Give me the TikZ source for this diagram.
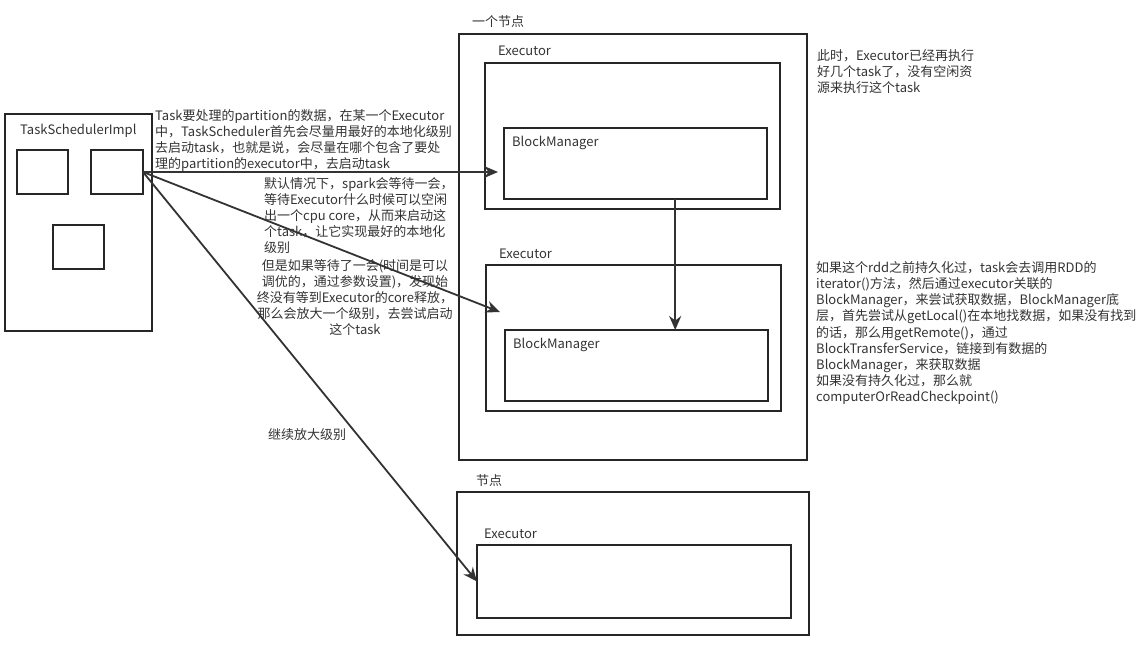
\documentclass[tikz,border=0pt]{standalone}
\usepackage{fontspec}
\setmainfont{Liberation Sans}
\newfontfamily\cjk{Noto Sans CJK SC}
\usetikzlibrary{arrows.meta,positioning}
\tikzset{
  box/.style={rectangle, draw=black!85, line width=1.5pt, anchor=north west, inner sep=0pt, outer sep=0pt},
  lbl/.style={font=\cjk\fontsize{13}{16.2}\selectfont, text=black!80, inner sep=0pt},
  conn/.style={-{Stealth[length=14pt,width=12pt]}, line width=1.8pt, draw=black!80}
}
\begin{document}
\begin{tikzpicture}[x=1pt,y=-1pt]
  \useasboundingbox (0,0) rectangle (1146,654);
  \node(sched) [box, minimum width=147, minimum height=217] at (5,114) {};
  \node(slotA) [box, minimum width=51, minimum height=44] at (17,150) {};
  \node(slotB) [box, minimum width=52, minimum height=44] at (91,150) {};
  \node(slotC) [box, minimum width=51, minimum height=44] at (53,225) {};
  \node(nodeA) [box, minimum width=348, minimum height=426] at (459,34) {};
  \node(execA) [box, minimum width=295, minimum height=146] at (485,63) {};
  \node(blockA) [box, minimum width=263, minimum height=71] at (504,128) {};
  \node(execB) [box, minimum width=295, minimum height=146] at (486,265) {};
  \node(blockB) [box, minimum width=263, minimum height=71] at (505,330) {};
  \node(nodeB) [box, minimum width=352, minimum height=143] at (457,492) {};
  \node(execC) [box, minimum width=314, minimum height=73] at (477,545) {};
  \node(schedname) [lbl, anchor=west] at (20,131) {TaskSchedulerImpl};
  \node(nodeAname) [lbl, anchor=west] at (472,22) {一个节点};
  \node(execAname) [lbl, anchor=west] at (498,51) {Executor};
  \node(blockAname) [lbl, anchor=west] at (512,143) {BlockManager};
  \node(execBname) [lbl, anchor=west] at (499,254) {Executor};
  \node(blockBname) [lbl, anchor=west] at (513,345) {BlockManager};
  \node(nodeBname) [lbl, anchor=west] at (476,481) {节点};
  \node(execCname) [lbl, anchor=west] at (484,534) {Executor};
  \node(localtext) [lbl, anchor=north west, align=left] at (155,109) {Task要处理的partition的数据，在某一个Executor\\中，TaskScheduler首先会尽量用最好的本地化级别\\去启动task，也就是说，会尽量在哪个包含了要处\\理的partition的executor中，去启动task};
  \node(waittext) [lbl, anchor=north west, align=left] at (264,177) {默认情况下，spark会等待一会，\\等待Executor什么时候可以空闲\\出一个cpu core，从而来启动这\\个task，让它实现最好的本地化\\级别};
  \node(widentext) [lbl, anchor=north, align=center] at (355,259) {但是如果等待了一会(时间是可以\\调优的，通过参数设置)，发现始\\终没有等到Executor的core释放，\\那么会放大一个级别，去尝试启动\\这个task};
  \node(furthertext) [lbl, anchor=west] at (268,435) {继续放大级别};
  \node(busytext) [lbl, anchor=north west, align=left] at (817,49) {此时，Executor已经再执行\\好几个task了，没有空闲资\\源来执行这个task};
  \node(fetchtext) [lbl, anchor=north west, align=left] at (816,261) {如果这个rdd之前持久化过，task会去调用RDD的\\iterator()方法，然后通过executor关联的\\BlockManager，来尝试获取数据，BlockManager底\\层，首先尝试从getLocal()在本地找数据，如果没有找到\\的话，那么用getRemote()，通过\\BlockTransferService，链接到有数据的\\BlockManager，来获取数据\\如果没有持久化过，那么就\\computerOrReadCheckpoint()};
  \coordinate(tipB) at (500,312);
  \draw[conn] (slotB.east) -- ([xshift=13]slotB.east -| execA.west);
  \draw[conn] (slotB.east) -- (tipB);
  \draw[conn] (slotB.east) -- (execC.west);
  \draw[conn] ([xshift=39.7]blockA.south) -- ([xshift=38.7]blockB.north);
\end{tikzpicture}
\end{document}
